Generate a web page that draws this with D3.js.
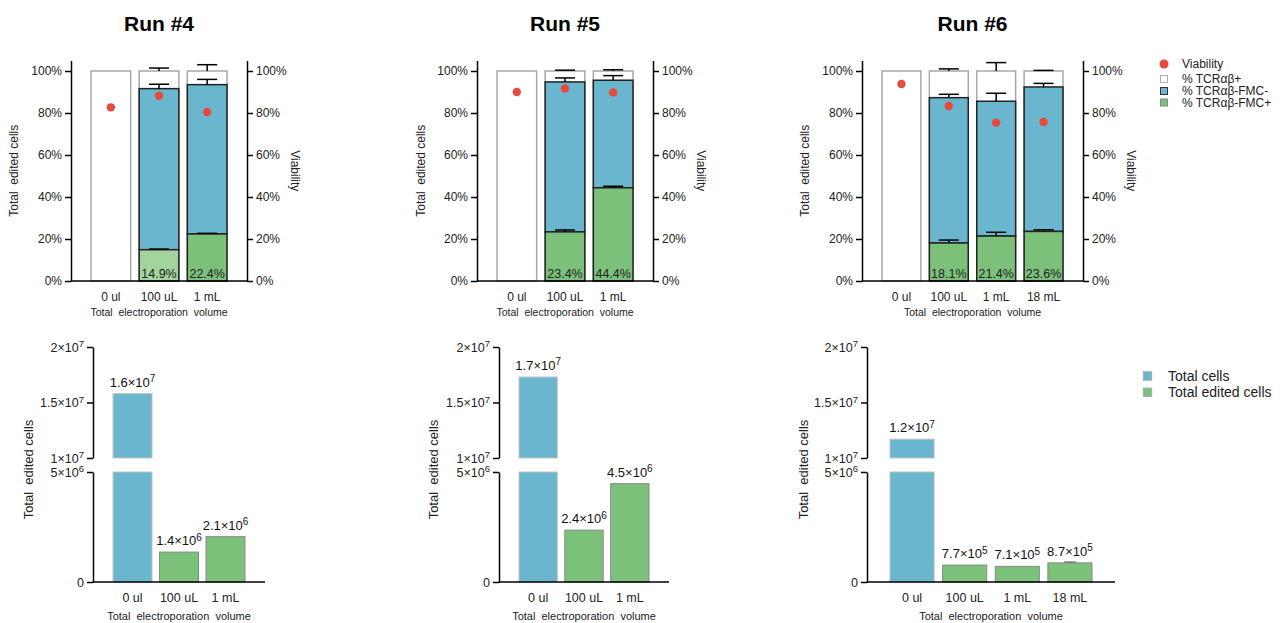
<!DOCTYPE html>
<html>
<head>
<meta charset="utf-8">
<script src="https://cdn.jsdelivr.net/npm/d3@7"></script>
<style>
  body { margin: 0; background: #fff; }
  svg { display: block; font-family: "Liberation Sans", Arial, sans-serif; }
  text { white-space: pre; }
</style>
</head>
<body>
<svg id="chart" width="1287" height="623"></svg>
<script>
// ---------------- DATA ----------------
const runTitles = ["Run #4", "Run #5", "Run #6"];
const categories3 = ["0 ul", "100 uL", "1 mL"];
const categories4 = ["0 ul", "100 uL", "1 mL", "18 mL"];
const percentTicks = [0, 20, 40, 60, 80, 100];

// stacked segment values (%), bottom → top
const fmcPos4 = [0, 14.9, 22.4];
const fmcNeg4 = [0, 76.7, 71.1];
const tcrPos4 = [100, 8.4, 6.5];
const fmcPosErr4 = [0, 0.3, 0.3];
const fmcNegErr4 = [0, 2.1, 2.5];
const tcrPosErr4 = [0, 1.4, 3.0];
const viability4 = [82.7, 88.2, 80.5];

const fmcPos5 = [0, 23.4, 44.4];
const fmcNeg5 = [0, 71.4, 51.2];
const tcrPos5 = [100, 5.2, 4.4];
const fmcPosErr5 = [0, 0.9, 0.7];
const fmcNegErr5 = [0, 1.9, 2.2];
const tcrPosErr5 = [0, 0.4, 0.6];
const viability5 = [90.0, 91.7, 89.8];

const fmcPos6 = [0, 18.1, 21.4, 23.6];
const fmcNeg6 = [0, 69.2, 64.2, 68.8];
const tcrPos6 = [100, 12.7, 14.4, 7.6];
const fmcPosErr6 = [0, 1.4, 1.8, 0.8];
const fmcNegErr6 = [0, 1.6, 3.8, 1.7];
const tcrPosErr6 = [0, 1.0, 4.0, 0.3];
const viability6 = [93.8, 83.3, 75.4, 75.7];

// cell counts: index 0 = total cells (blue), others = total edited cells (green)
const cells4 = [1.58e7, 1.36e6, 2.06e6];
const cells5 = [1.73e7, 2.36e6, 4.47e6];
const cells6 = [1.17e7, 7.7e5, 7.1e5, 8.7e5];
const cellsErr6 = [0, 0, 0, 0.04e6];
const countTicksLow = [0, 5e6];
const countTicksHigh = [1e7, 1.5e7, 2e7];

const topLegend = ["Viability", "% TCRαβ+", "% TCRαβ-FMC-", "% TCRαβ-FMC+"];
const bottomLegend = ["Total cells", "Total edited cells"];

// ---------------- STYLE / LAYOUT ----------------
const BLUE = "#6bb6cf", GREEN = "#7cc17a", LIGHTGREEN = "#a4d49d", RED = "#e8493c";
const INK = "#222";
const svg = d3.select("#chart");

function bandFor(cats, x0, x1, outer, gap) {
  const n = cats.length;
  const step = (x1 - x0 - 2 * outer + gap) / n;
  return d3.scaleBand().domain(cats).range([x0 + outer, x1 - outer]).paddingInner(gap / step).paddingOuter(0);
}

function styleAxis(g, size) {
  g.select(".domain").attr("stroke", "#000").attr("stroke-width", 1.5);
  g.selectAll(".tick line").attr("stroke", "#000").attr("stroke-width", 1.5);
  g.selectAll(".tick text").attr("fill", INK).style("font-size", size + "px")
    .style("font-family", '"Liberation Sans", Arial, sans-serif');
}

function sciParts(v, fixed) {
  if (v === 0) return null;
  const e = Math.floor(Math.log10(v) + 1e-9);
  const m = v / Math.pow(10, e);
  const ms = fixed ? m.toFixed(1) : String(+m.toFixed(2));
  return [ms, e];
}
function writeSci(textSel, v, fixed, supSize) {
  const p = sciParts(v, fixed);
  textSel.text(null);
  if (!p) { textSel.text("0"); return; }
  textSel.append("tspan").text(p[0] + "×10");
  textSel.append("tspan").attr("dy", "-0.45em").style("font-size", supSize + "px").text(p[1]);
}

// ---------------- TOP PANELS ----------------
const topPanels = [
  { title: runTitles[0], cats: categories3, x0: 71, x1: 247, pos: fmcPos4, neg: fmcNeg4, tcr: tcrPos4,
    posE: fmcPosErr4, negE: fmcNegErr4, tcrE: tcrPosErr4, via: viability4, light: [1], yl: 14, vl: 295 },
  { title: runTitles[1], cats: categories3, x0: 477, x1: 653, pos: fmcPos5, neg: fmcNeg5, tcr: tcrPos5,
    posE: fmcPosErr5, negE: fmcNegErr5, tcrE: tcrPosErr5, via: viability5, light: [], yl: 421, vl: 701 },
  { title: runTitles[2], cats: categories4, x0: 862, x1: 1083, pos: fmcPos6, neg: fmcNeg6, tcr: tcrPos6,
    posE: fmcPosErr6, negE: fmcNegErr6, tcrE: tcrPosErr6, via: viability6, light: [], yl: 805, vl: 1131 }
];

const yTop = d3.scaleLinear().domain([0, 105]).range([281, 60.5]);

topPanels.forEach(p => {
  const g = svg.append("g");
  const x = bandFor(p.cats, p.x0, p.x1, 20, 8.5);
  const bw = x.bandwidth();

  g.append("text").attr("x", (p.x0 + p.x1) / 2).attr("y", 31).attr("text-anchor", "middle")
    .style("font-size", "21px").style("font-weight", "bold").attr("fill", "#000").text(p.title);

  p.cats.forEach((c, i) => {
    const bx = x(c);
    const gTop = p.pos[i];
    const nTop = p.pos[i] + p.neg[i];
    const wTop = nTop + p.tcr[i];
    g.append("rect").attr("x", bx).attr("width", bw)
      .attr("y", yTop(wTop)).attr("height", yTop(0) - yTop(wTop))
      .attr("fill", "#fff").attr("stroke", "#a8a8a8").attr("stroke-width", 1.5);
    if (p.neg[i] > 0) {
      g.append("rect").attr("x", bx).attr("width", bw)
        .attr("y", yTop(nTop)).attr("height", yTop(gTop) - yTop(nTop))
        .attr("fill", BLUE).attr("stroke", INK).attr("stroke-width", 1.5);
    }
    if (p.pos[i] > 0) {
      g.append("rect").attr("x", bx).attr("width", bw)
        .attr("y", yTop(gTop)).attr("height", yTop(0) - yTop(gTop))
        .attr("fill", p.light.includes(i) ? LIGHTGREEN : GREEN).attr("stroke", INK).attr("stroke-width", 1.5);
      g.append("text").attr("x", bx + bw / 2).attr("y", 278).attr("text-anchor", "middle")
        .style("font-size", "12.5px").attr("fill", INK).text(p.pos[i].toFixed(1) + "%");
    }
    [[gTop, p.posE[i]], [nTop, p.negE[i]], [wTop, p.tcrE[i]]].forEach(([top, e]) => {
      if (!e) return;
      const cx = bx + bw / 2;
      g.append("line").attr("x1", cx).attr("x2", cx).attr("y1", yTop(top)).attr("y2", yTop(top + e))
        .attr("stroke", "#000").attr("stroke-width", 1.5);
      g.append("line").attr("x1", cx - 10).attr("x2", cx + 10).attr("y1", yTop(top + e)).attr("y2", yTop(top + e))
        .attr("stroke", "#000").attr("stroke-width", 1.5);
    });
  });

  g.selectAll("circle.via").data(p.via).join("circle")
    .attr("cx", (d, i) => x(p.cats[i]) + bw / 2).attr("cy", d => yTop(d)).attr("r", 4.2).attr("fill", RED);

  const la = g.append("g").attr("transform", `translate(${p.x0},0)`)
    .call(d3.axisLeft(yTop).tickValues(percentTicks).tickFormat(d => d + "%").tickSize(6).tickPadding(3).tickSizeOuter(0));
  styleAxis(la, 12);
  const ra = g.append("g").attr("transform", `translate(${p.x1},0)`)
    .call(d3.axisRight(yTop).tickValues(percentTicks).tickFormat(d => d + "%").tickSize(6).tickPadding(3).tickSizeOuter(0));
  styleAxis(ra, 12);
  g.append("line").attr("x1", p.x0).attr("x2", p.x1).attr("y1", yTop(0)).attr("y2", yTop(0))
    .attr("stroke", "#000").attr("stroke-width", 1.5);

  p.cats.forEach(c => {
    g.append("text").attr("x", x(c) + bw / 2).attr("y", 300.5).attr("text-anchor", "middle")
      .style("font-size", "12px").attr("fill", INK).text(c);
  });
  g.append("text").attr("x", (p.x0 + p.x1) / 2).attr("y", 316).attr("text-anchor", "middle")
    .style("font-size", "10.5px").attr("fill", INK).text("Total  electroporation  volume");
  g.append("text").attr("transform", `translate(${p.yl + 4},${(yTop(0) + yTop(105)) / 2}) rotate(-90)`)
    .attr("text-anchor", "middle").style("font-size", "12px").attr("fill", INK).text("Total  edited cells");
  g.append("text").attr("transform", `translate(${p.vl - 4},${(yTop(0) + yTop(105)) / 2}) rotate(90)`)
    .attr("text-anchor", "middle").style("font-size", "12px").attr("fill", INK).text("Viability");
});

// top legend
(function () {
  const g = svg.append("g");
  const lx = 1164, tx = 1182;
  const rows = [64, 79, 91, 102.5];
  g.append("circle").attr("cx", lx).attr("cy", rows[0]).attr("r", 4.5).attr("fill", RED);
  const fills = [null, "#fff", BLUE, GREEN];
  const strokes = [null, "#b0b0b0", "#333", "#888"];
  for (let i = 1; i < 4; i++) {
    g.append("rect").attr("x", lx - 3.5).attr("y", rows[i] - 3.5).attr("width", 7).attr("height", 7)
      .attr("fill", fills[i]).attr("stroke", strokes[i]).attr("stroke-width", 1);
  }
  topLegend.forEach((t, i) => {
    g.append("text").attr("x", tx).attr("y", rows[i] + 4.3).style("font-size", "12px").attr("fill", INK).text(t);
  });
})();

// ---------------- BOTTOM PANELS ----------------
const yLow = d3.scaleLinear().domain([0, 5e6]).range([582, 472]);
const yHigh = d3.scaleLinear().domain([1e7, 2e7]).range([458, 347]);

const bottomPanels = [
  { cats: categories3, x0: 93, x1: 265, vals: cells4, err: [0, 0, 0], outer: 20, gap: 7.5, yl: 28 },
  { cats: categories3, x0: 499, x1: 669, vals: cells5, err: [0, 0, 0], outer: 20, gap: 7.5, yl: 433 },
  { cats: categories4, x0: 867, x1: 1115, vals: cells6, err: cellsErr6, outer: 23, gap: 8.5, yl: 803 }
];

bottomPanels.forEach(p => {
  const g = svg.append("g");
  const x = bandFor(p.cats, p.x0, p.x1, p.outer, p.gap);
  const bw = x.bandwidth();

  p.cats.forEach((c, i) => {
    const v = p.vals[i];
    const bx = x(c);
    const isTotal = i === 0;
    const fill = isTotal ? BLUE : GREEN;
    const stroke = isTotal ? "#c4c4c4" : "#8a8a8a";
    let topY;
    if (v > 5e6) {
      g.append("rect").attr("x", bx).attr("width", bw).attr("y", yLow(5e6)).attr("height", yLow(0) - yLow(5e6))
        .attr("fill", fill).attr("stroke", stroke).attr("stroke-width", 1);
      g.append("rect").attr("x", bx).attr("width", bw).attr("y", yHigh(v)).attr("height", yHigh(1e7) - yHigh(v))
        .attr("fill", fill).attr("stroke", stroke).attr("stroke-width", 1);
      topY = yHigh(v);
    } else {
      g.append("rect").attr("x", bx).attr("width", bw).attr("y", yLow(v)).attr("height", yLow(0) - yLow(v))
        .attr("fill", fill).attr("stroke", stroke).attr("stroke-width", 1);
      topY = yLow(v);
    }
    const e = p.err[i];
    if (e) {
      const cx = bx + bw / 2;
      g.append("line").attr("x1", cx).attr("x2", cx).attr("y1", yLow(v)).attr("y2", yLow(v + e)).attr("stroke", "#555").attr("stroke-width", 1);
      g.append("line").attr("x1", cx - 6).attr("x2", cx + 6).attr("y1", yLow(v + e)).attr("y2", yLow(v + e)).attr("stroke", "#555").attr("stroke-width", 1);
    }
    const t = g.append("text").attr("x", bx + bw / 2).attr("y", topY - 7).attr("text-anchor", "middle")
      .style("font-size", "13px").attr("fill", "#111");
    writeSci(t, v, true, 10);
  });

  const aLow = g.append("g").attr("transform", `translate(${p.x0},0)`)
    .call(d3.axisLeft(yLow).tickValues(countTicksLow).tickSize(6).tickPadding(3).tickSizeOuter(0));
  const aHigh = g.append("g").attr("transform", `translate(${p.x0},0)`)
    .call(d3.axisLeft(yHigh).tickValues(countTicksHigh).tickSize(6).tickPadding(3).tickSizeOuter(0));
  [aLow, aHigh].forEach(a => {
    styleAxis(a, 12.5);
    a.selectAll(".tick text").each(function (d) { writeSci(d3.select(this), d, false, 9.5); });
  });
  g.append("line").attr("x1", p.x0).attr("x2", p.x1).attr("y1", yLow(0)).attr("y2", yLow(0))
    .attr("stroke", "#000").attr("stroke-width", 1.5);

  p.cats.forEach(c => {
    g.append("text").attr("x", x(c) + bw / 2).attr("y", 602).attr("text-anchor", "middle")
      .style("font-size", "12.5px").attr("fill", INK).text(c);
  });
  g.append("text").attr("x", (p.x0 + p.x1) / 2).attr("y", 619.5).attr("text-anchor", "middle")
    .style("font-size", "11px").attr("fill", INK).text("Total  electroporation  volume");
  g.append("text").attr("transform", `translate(${p.yl + 4.5},${(yLow(0) + yHigh(2e7)) / 2 + 5}) rotate(-90)`)
    .attr("text-anchor", "middle").style("font-size", "13px").attr("fill", INK).text("Total  edited cells");
});

// bottom legend
(function () {
  const g = svg.append("g");
  const rows = [376, 392.3];
  const fills = [BLUE, GREEN];
  bottomLegend.forEach((t, i) => {
    g.append("rect").attr("x", 1143.3).attr("y", rows[i] - 4.2).attr("width", 8.4).attr("height", 8.4)
      .attr("fill", fills[i]).attr("stroke", "#aaa").attr("stroke-width", 1);
    g.append("text").attr("x", 1168).attr("y", rows[i] + 5).style("font-size", "14px").attr("fill", INK).text(t);
  });
})();
</script>
</body>
</html>
